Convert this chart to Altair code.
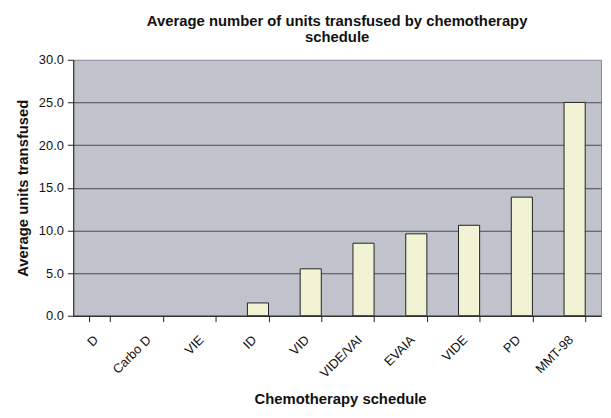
import altair as alt
import pandas as pd

categories = ["D", "Carbo D", "VIE", "ID", "VID", "VIDE/VAI", "EVAIA", "VIDE", "PD", "MMT-98"]
values = [0.0, 0.0, 0.0, 1.5, 5.5, 8.5, 9.6, 10.6, 13.9, 25.0]
y_ticks = [0, 5, 10, 15, 20, 25, 30]

df = pd.DataFrame({"schedule": categories, "units": values})
FONT = "Liberation Sans"

bars = alt.Chart(df).mark_bar(
    fill="#F2F2D4", stroke="#222222"
).encode(
    x=alt.X("schedule:N", sort=categories,
            scale=alt.Scale(domain=categories, paddingInner=0.6, paddingOuter=0.3),
            axis=alt.Axis(title="Chemotherapy schedule", labelAngle=-45, labelAlign="right",
                          labelBaseline="middle", tickBand="extent", tickSize=6,
                          labelPadding=16, labelOffset=-4,
                          titleX=270, titleY=89, titleBaseline="alphabetic", titleAlign="center",
                          domainColor="#222222", tickColor="#222222", grid=False)),
    y=alt.Y("units:Q", scale=alt.Scale(domain=[0, 30], nice=False),
            axis=alt.Axis(title="Average units transfused", values=y_ticks, format=".1f",
                          tickSize=6, labelPadding=4,
                          titleX=-46, titleBaseline="alphabetic", titleAngle=-90,
                          grid=True, gridColor="#4a4a4a", gridWidth=1,
                          gridOpacity=alt.condition("datum.value >= 30", alt.value(0), alt.value(1)),
                          domainColor="#222222", tickColor="#222222")),
    strokeWidth=alt.condition("datum.units > 0", alt.value(1), alt.value(0)),
)

chart = bars.properties(
    width=534, height=259,
    title=alt.TitleParams(
        ["Average number of units transfused by chemotherapy", "schedule"],
        fontSize=15, font=FONT, fontWeight="bold", anchor="middle", frame="group", offset=9,
        lineHeight=16, color="#111111"),
    autosize=alt.AutoSizeParams(type="none"),
    padding={"left": 66, "top": 50, "right": 2, "bottom": 93},
).configure_view(
    fill="#C0C3CC", stroke="#858a95", strokeWidth=1
).configure_axis(
    labelFont=FONT, labelFontSize=13, labelColor="#111111",
    titleFont=FONT, titleFontSize=15, titleFontWeight="bold", titleColor="#111111",
)

chart.save("out.html", embed_options={"renderer": "svg", "actions": False})
